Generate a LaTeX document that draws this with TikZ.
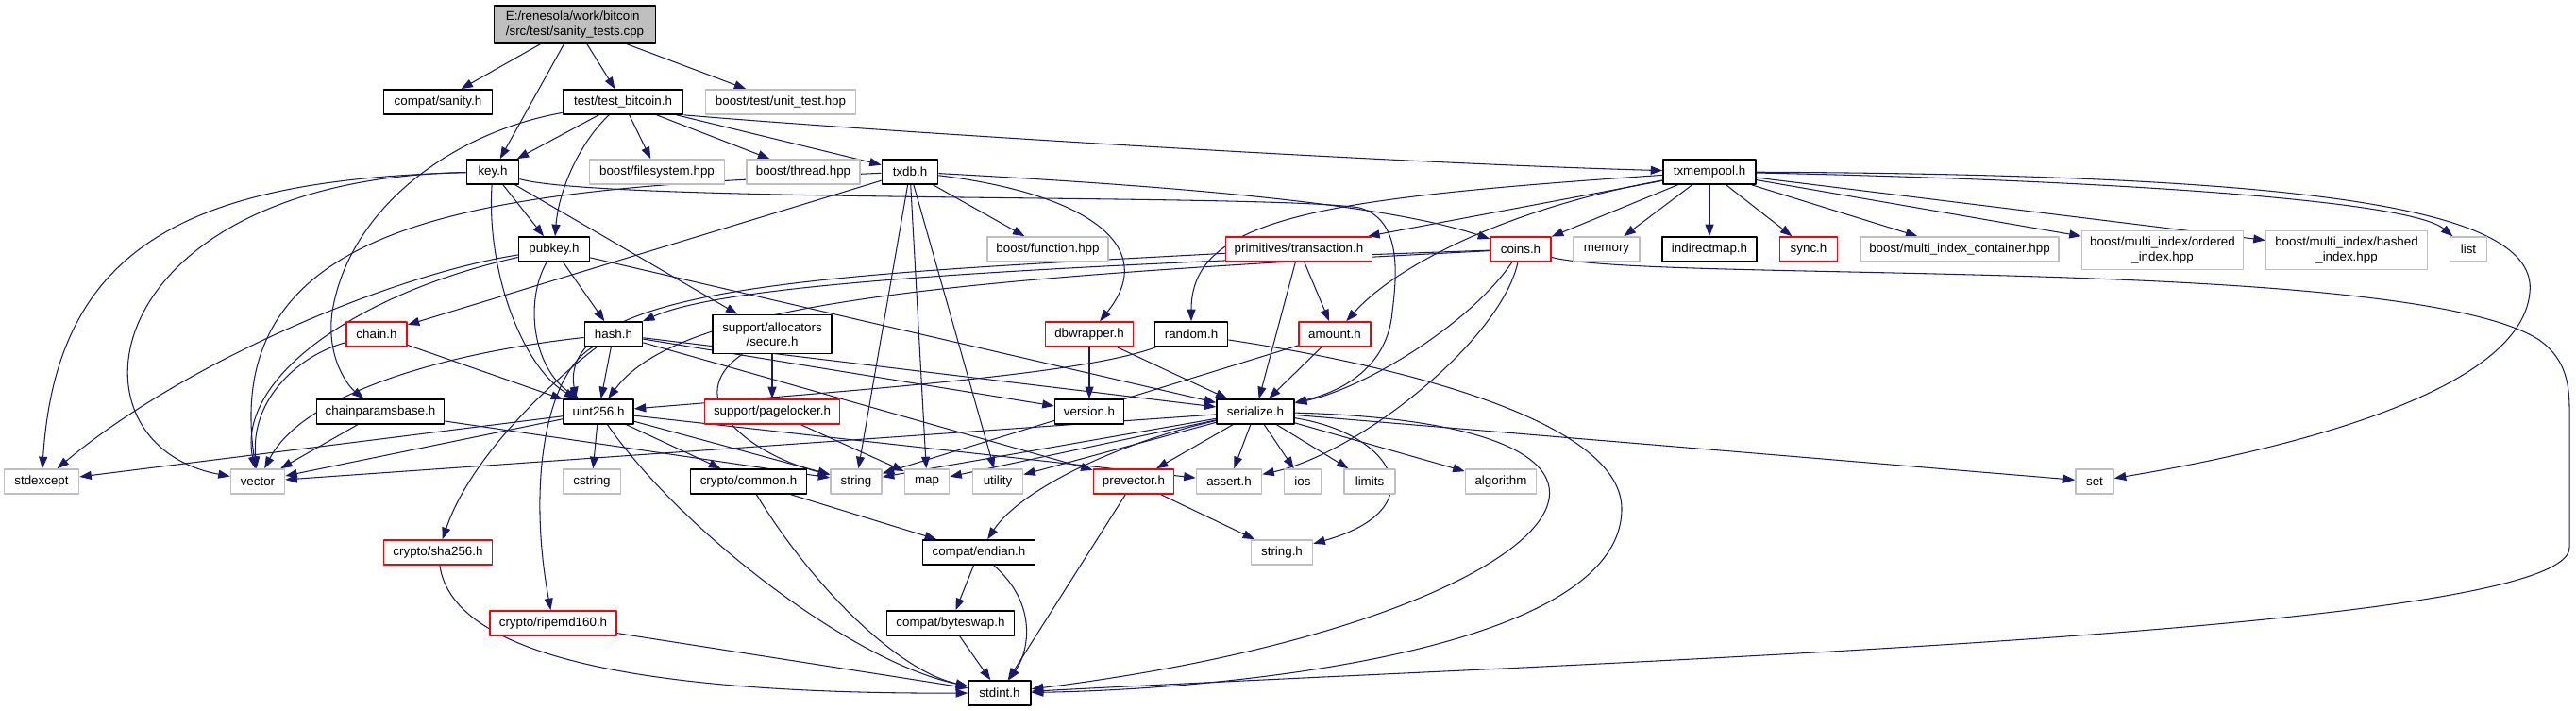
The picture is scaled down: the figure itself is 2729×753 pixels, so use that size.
\documentclass[tikz,border=0pt]{standalone}
\usepackage{fontspec}
\setmainfont{Liberation Sans}
\usetikzlibrary{arrows.meta,backgrounds}
\definecolor{edgeblue}{HTML}{191970}
\definecolor{extgray}{HTML}{BFBFBF}
\definecolor{truncred}{HTML}{FF0000}
\tikzset{
  every picture/.style={line join=round, >={Triangle[length=0.25cm,width=0.18cm]}},
  file/.style={draw, rectangle, fill=white, inner sep=0pt, minimum height=0.52cm, line width=0.9pt, font=\fontsize{7.6}{8.7}\selectfont},
  docfile/.style={file, draw=black},
  truncfile/.style={file, draw=truncred},
  extfile/.style={file, draw=extgray},
  rootfile/.style={file, draw=black, fill=extgray, minimum height=0.8cm, align=left},
  twoline/.style={minimum height=0.82cm, align=center},
  wd/.style={minimum width=0.02cm*#1},
  dep/.style={->, edgeblue, line width=0.6pt},
}

\begin{document}
\begin{tikzpicture}[x=0.02cm,y=-0.02cm]
\useasboundingbox (0,0) rectangle (2729,753);
\node[rootfile, wd=171] (rt) at (609,26) {E:/renesola/work/bitcoin\\/src/test/sanity\_tests.cpp};
\node[docfile, wd=115] (sanity) at (464,108) {compat/sanity.h};
\node[docfile, wd=127] (testbtc) at (660,108) {test/test\_bitcoin.h};
\node[extfile, wd=159] (unittest) at (827,108) {boost/test/unit\_test.hpp};
\node[docfile, wd=55] (key) at (522,182) {key.h};
\node[extfile, wd=143] (fsys) at (696,182) {boost/filesystem.hpp};
\node[extfile, wd=120] (thread) at (851,182) {boost/thread.hpp};
\node[docfile, wd=59] (txdb) at (964,182) {txdb.h};
\node[docfile, wd=98] (mempool) at (1811,182) {txmempool.h};
\node[docfile, wd=75] (pubkey) at (587,264) {pubkey.h};
\node[extfile, wd=128] (function) at (1110,264) {boost/function.hpp};
\node[truncfile, wd=155] (transaction) at (1376,264) {primitives/transaction.h};
\node[truncfile, wd=64] (coins) at (1611,264) {coins.h};
\node[extfile, wd=70] (memory) at (1702,264) {memory};
\node[docfile, wd=100] (indirectmap) at (1811,264) {indirectmap.h};
\node[truncfile, wd=61] (sync) at (1916,264) {sync.h};
\node[extfile, wd=210] (mic) at (2076,264) {boost/multi\_index\_container.hpp};
\node[extfile, wd=171, twoline] (ordered) at (2291,265) {boost/multi\_index/ordered\\\_index.hpp};
\node[extfile, wd=171, twoline] (hashed) at (2486,265) {boost/multi\_index/hashed\\\_index.hpp};
\node[extfile, wd=39] (list) at (2615,264) {list};
\node[truncfile, wd=64] (chain) at (399,354) {chain.h};
\node[docfile, wd=61] (hash) at (650,354) {hash.h};
\node[docfile, wd=126, twoline] (secure) at (818,354) {support/allocators\\/secure.h};
\node[truncfile, wd=93] (dbwrapper) at (1154,354) {dbwrapper.h};
\node[docfile, wd=77] (random) at (1262,354) {random.h};
\node[truncfile, wd=76] (amount) at (1414,354) {amount.h};
\node[docfile, wd=135] (cpbase) at (403,436) {chainparamsbase.h};
\node[docfile, wd=74] (uint256) at (634,436) {uint256.h};
\node[truncfile, wd=143] (pagelocker) at (818,436) {support/pagelocker.h};
\node[docfile, wd=73] (version) at (1154,436) {version.h};
\node[docfile, wd=82] (serialize) at (1330,436) {serialize.h};
\node[extfile, wd=79] (stdexcept) at (44,510) {stdexcept};
\node[extfile, wd=57] (vector) at (273,510) {vector};
\node[extfile, wd=61] (cstring) at (627,510) {cstring};
\node[docfile, wd=123] (common) at (793,510) {crypto/common.h};
\node[extfile, wd=54] (string) at (907,510) {string};
\node[extfile, wd=47] (map) at (982,510) {map};
\node[extfile, wd=53] (utility) at (1057,510) {utility};
\node[truncfile, wd=85] (prevector) at (1201,510) {prevector.h};
\node[extfile, wd=69] (assert) at (1302,510) {assert.h};
\node[extfile, wd=39] (ios) at (1380,510) {ios};
\node[extfile, wd=54] (limits) at (1451,510) {limits};
\node[extfile, wd=75] (algorithm) at (1590,510) {algorithm};
\node[extfile, wd=40] (set) at (2219,510) {set};
\node[truncfile, wd=115] (sha256) at (464,585) {crypto/sha256.h};
\node[docfile, wd=119] (endian) at (1037,585) {compat/endian.h};
\node[extfile, wd=65] (stringh) at (1358,585) {string.h};
\node[truncfile, wd=134] (ripemd) at (586,660) {crypto/ripemd160.h};
\node[docfile, wd=135] (byteswap) at (1007,660) {compat/byteswap.h};
\node[docfile, wd=66] (stdint) at (1059,734) {stdint.h};
\begin{pgfonlayer}{background}
% sanity_tests.cpp
\draw[dep] (rt) -- (sanity);
\draw[dep] (rt) -- (key);
\draw[dep] (rt) -- (testbtc);
\draw[dep] (rt) -- (unittest);
% test/test_bitcoin.h
\draw[dep] (testbtc) .. controls (480,140) and (370,220) .. (352,330) .. controls (345,380) and (370,410) .. (cpbase);
\draw[dep] (testbtc) -- (key);
\draw[dep] (testbtc) .. controls (615,150) and (592,200) .. (pubkey);
\draw[dep] (testbtc) -- (fsys);
\draw[dep] (testbtc) -- (thread);
\draw[dep] (testbtc) -- (txdb);
\draw[dep] (testbtc.south east) .. controls (900,137) and (1450,172) .. (mempool);
% key.h
\draw[dep] (key) -- (pubkey);
\draw[dep] (key) -- (secure);
\draw[dep] (key) .. controls (515,290) and (555,390) .. (uint256);
\draw[dep] (key) .. controls (200,190) and (60,260) .. (stdexcept);
\draw[dep] (key) .. controls (100,190) and (60,470) .. (vector);
\draw[dep] (key.-15) .. controls (640,215) and (1350,205) .. (1440,220) .. controls (1485,232) and (1480,290) .. (1475,330) .. controls (1470,390) and (1420,415) .. (serialize);
% pubkey.h
\draw[dep] (pubkey) -- (hash);
\draw[dep] (pubkey) .. controls (555,320) and (565,390) .. (uint256);
\draw[dep] (pubkey) -- (serialize);
\draw[dep] (pubkey) .. controls (420,290) and (200,380) .. (stdexcept);
\draw[dep] (pubkey) .. controls (380,310) and (250,400) .. (vector);
% hash.h
\draw[dep] (hash) .. controls (575,400) and (560,520) .. (ripemd);
\draw[dep] (hash) .. controls (590,400) and (500,480) .. (sha256);
\draw[dep] (hash) -- (prevector);
\draw[dep] (hash) -- (serialize);
\draw[dep] (hash) -- (uint256);
\draw[dep] (hash) -- (version);
\draw[dep] (hash) .. controls (460,375) and (320,420) .. (vector);
% txdb.h
\draw[dep] (txdb) .. controls (1300,200) and (1480,220) .. (coins);
\draw[dep] (txdb) .. controls (1150,205) and (1230,260) .. (dbwrapper);
\draw[dep] (txdb) -- (chain);
\draw[dep] (txdb) -- (map);
\draw[dep] (txdb) -- (string);
\draw[dep] (txdb) -- (utility);
\draw[dep] (txdb) .. controls (550,200) and (230,215) .. (vector);
\draw[dep] (txdb) -- (function);
% txmempool.h
\draw[dep] (mempool) .. controls (1400,210) and (1262,230) .. (random);
\draw[dep] (mempool) -- (transaction);
\draw[dep] (mempool) .. controls (1600,220) and (1480,280) .. (amount);
\draw[dep] (mempool) -- (coins);
\draw[dep] (mempool) -- (memory);
\draw[dep] (mempool) -- (indirectmap);
\draw[dep] (mempool) -- (sync);
\draw[dep] (mempool) -- (mic);
\draw[dep] (mempool) -- (ordered);
\draw[dep] (mempool) -- (hashed);
\draw[dep] (mempool) .. controls (2200,190) and (2550,210) .. (list);
\draw[dep] (mempool) .. controls (2450,185) and (2690,220) .. (2680,310) .. controls (2670,420) and (2400,480) .. (set);
% chain.h, chainparamsbase.h, secure.h, pagelocker.h
\draw[dep] (chain) -- (uint256);
\draw[dep] (chain) .. controls (320,375) and (265,420) .. (vector);
\draw[dep] (cpbase) -- (vector);
\draw[dep] (cpbase) -- (string);
\draw[dep] (secure) -- (pagelocker);
\draw[dep] (secure) .. controls (720,420) and (790,480) .. (string);
\draw[dep] (pagelocker) -- (map);
% dbwrapper.h, random.h, transaction.h, amount.h
\draw[dep] (dbwrapper) -- (version);
\draw[dep] (dbwrapper) -- (serialize);
\draw[dep] (random) .. controls (1150,395) and (950,410) .. (uint256);
\draw[dep] (random) .. controls (1500,390) and (1720,450) .. (1718,540) .. controls (1716,690) and (1300,730) .. (stdint);
\draw[dep] (transaction) -- (amount);
\draw[dep] (transaction) -- (serialize);
\draw[dep] (transaction) .. controls (900,290) and (590,300) .. (uint256.150);
\draw[dep] (amount) -- (serialize);
\draw[dep] (amount) -- (string);
% coins.h
\draw[dep] (coins) .. controls (1000,285) and (760,305) .. (hash);
\draw[dep] (coins) .. controls (1000,295) and (720,320) .. (uint256);
\draw[dep] (coins) .. controls (1560,340) and (1450,410) .. (serialize);
\draw[dep] (coins) .. controls (1590,360) and (1440,480) .. (assert);
\draw[dep] (coins) .. controls (1750,300) and (2550,270) .. (2690,360) .. controls (2725,385) and (2722,420) .. (2722,450) -- (2722,580) .. controls (2722,670) and (1700,700) .. (stdint);
% serialize.h
\draw[dep] (serialize) .. controls (1180,470) and (1080,520) .. (endian);
\draw[dep] (serialize) -- (algorithm);
\draw[dep] (serialize) -- (assert);
\draw[dep] (serialize) -- (ios);
\draw[dep] (serialize) -- (limits);
\draw[dep] (serialize) -- (map);
\draw[dep] (serialize) -- (set);
\draw[dep] (serialize) .. controls (1850,450) and (1650,660) .. (stdint);
\draw[dep] (serialize) -- (string);
\draw[dep] (serialize) .. controls (1480,460) and (1520,540) .. (stringh);
\draw[dep] (serialize) -- (utility);
\draw[dep] (serialize) -- (vector);
\draw[dep] (serialize) -- (prevector);
% uint256.h
\draw[dep] (uint256) -- (assert);
\draw[dep] (uint256) -- (cstring);
\draw[dep] (uint256) -- (stdexcept);
\draw[dep] (uint256) .. controls (720,560) and (900,700) .. (stdint);
\draw[dep] (uint256) -- (string);
\draw[dep] (uint256) -- (vector);
\draw[dep] (uint256) -- (common);
% lower part
\draw[dep] (common) .. controls (860,620) and (950,710) .. (stdint);
\draw[dep] (common) -- (endian);
\draw[dep] (endian) -- (byteswap);
\draw[dep] (endian) .. controls (1100,640) and (1090,690) .. (stdint);
\draw[dep] (byteswap) -- (stdint);
\draw[dep] (prevector) -- (stdint);
\draw[dep] (prevector) -- (stringh);
\draw[dep] (sha256) .. controls (480,700) and (700,735) .. (stdint);
\draw[dep] (ripemd) -- (stdint);
\end{pgfonlayer}
\end{tikzpicture}
\end{document}
